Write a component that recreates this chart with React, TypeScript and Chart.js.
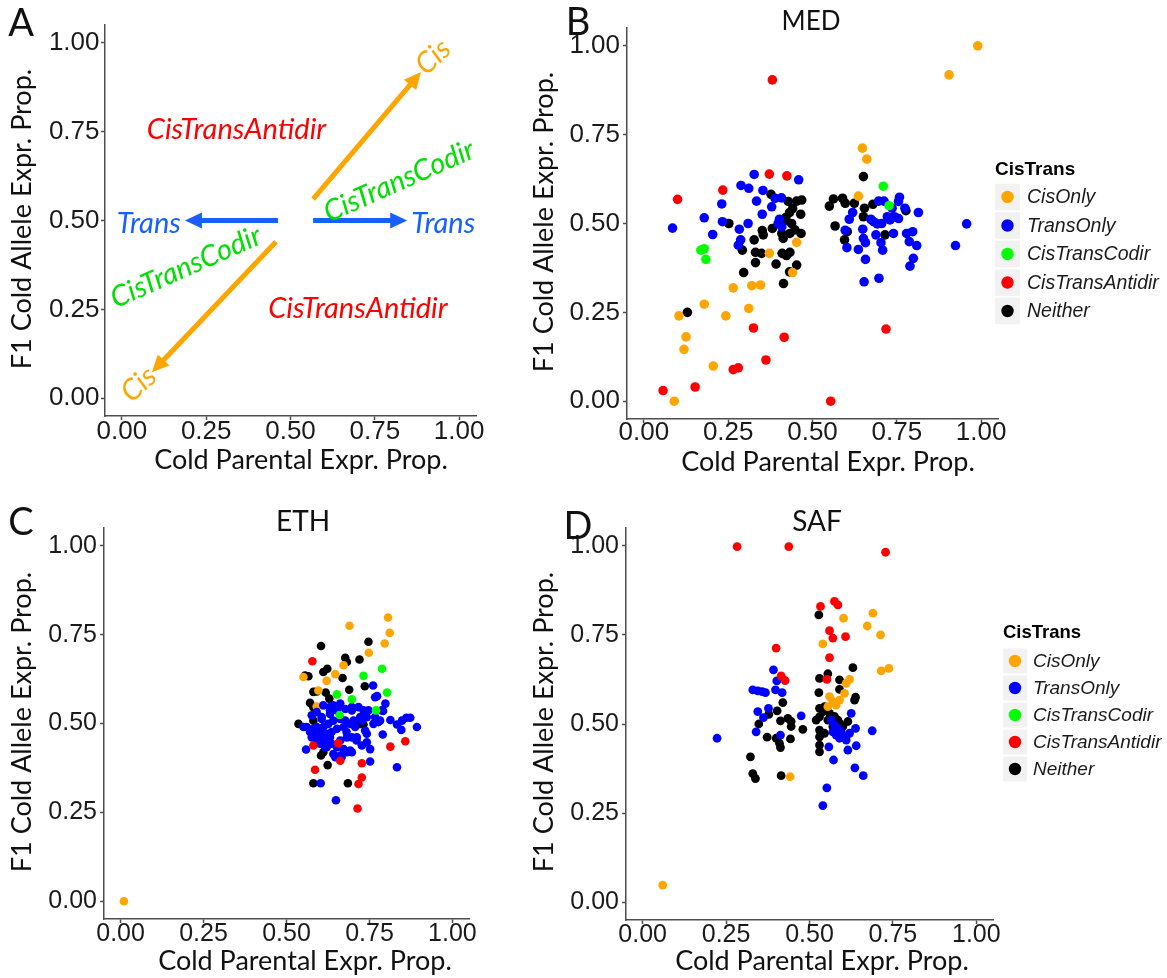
import React, { useEffect, useRef } from "react";
import { Chart, registerables } from "chart.js";

Chart.register(...registerables);

type Pt = [number, number];

// ---------- shared axis / category data ----------
const AXIS_TICKS = [0, 0.25, 0.5, 0.75, 1];
const AXIS_TICK_LABELS = ["0.00", "0.25", "0.50", "0.75", "1.00"];
const X_TITLE = "Cold Parental Expr. Prop.";
const Y_TITLE = "F1 Cold Allele Expr. Prop.";
const LEGEND_TITLE = "CisTrans";
const CATEGORIES = ["CisOnly", "TransOnly", "CisTransCodir", "CisTransAntidir", "Neither"];

// ---------- schematic (panel A) ----------
const SCHEMATIC_ARROW_FROM: Pt[] = [[0.567, 0.56], [0.457, 0.44], [0.463, 0.5], [0.567, 0.5]];
const SCHEMATIC_ARROW_TO: Pt[] = [[0.887, 0.918], [0.089, 0.073], [0.187, 0.5], [0.846, 0.5]];
const SCHEMATIC_ARROW_KIND = ["cis", "cis", "trans", "trans"];
const SCHEMATIC_LABELS = ["CisTransAntidir", "CisTransAntidir", "Trans", "Trans", "CisTransCodir", "CisTransCodir", "Cis", "Cis"];
const SCHEMATIC_LABEL_AT: Pt[] = [
  [0.34, 0.755], [0.7, 0.253], [0.08, 0.49], [0.953, 0.49],
  [0.822, 0.611], [0.19, 0.369], [0.923, 0.96], [0.05, 0.039],
];
const SCHEMATIC_LABEL_KIND = ["antidir", "antidir", "trans", "trans", "codir", "codir", "cis", "cis"];

// ---------- MED ----------
const MED_CIS_ONLY: Pt[] = [
  [0.99, 1.0], [0.905, 0.918], [0.648, 0.712], [0.661, 0.681], [0.636, 0.577], [0.372, 0.416],
  [0.453, 0.447], [0.441, 0.362], [0.265, 0.319], [0.32, 0.325], [0.346, 0.327], [0.179, 0.273],
  [0.104, 0.24], [0.243, 0.24], [0.311, 0.261], [0.125, 0.181], [0.119, 0.146], [0.206, 0.099], [0.09, 0.0],
];
const MED_TRANS_ONLY: Pt[] = [
  [0.085, 0.487], [0.179, 0.516], [0.204, 0.469], [0.231, 0.555], [0.233, 0.505], [0.288, 0.607],
  [0.311, 0.599], [0.327, 0.638], [0.353, 0.593], [0.334, 0.563], [0.351, 0.526], [0.379, 0.547],
  [0.389, 0.571], [0.408, 0.572], [0.459, 0.623], [0.283, 0.484], [0.309, 0.5], [0.287, 0.454],
  [0.28, 0.439], [0.402, 0.512], [0.398, 0.5], [0.409, 0.491],
  [0.619, 0.531], [0.609, 0.512], [0.597, 0.481], [0.602, 0.432], [0.636, 0.427], [0.649, 0.484],
  [0.651, 0.458], [0.657, 0.446], [0.657, 0.399], [0.653, 0.336], [0.697, 0.346], [0.673, 0.512],
  [0.681, 0.505], [0.692, 0.499], [0.705, 0.5], [0.688, 0.468], [0.703, 0.446], [0.708, 0.425],
  [0.712, 0.563], [0.696, 0.563], [0.736, 0.543], [0.722, 0.519], [0.73, 0.51], [0.743, 0.519],
  [0.755, 0.562], [0.758, 0.574], [0.755, 0.514], [0.74, 0.472], [0.774, 0.543], [0.779, 0.472],
  [0.797, 0.477], [0.787, 0.449], [0.809, 0.438], [0.799, 0.402], [0.789, 0.38], [0.814, 0.531],
  [0.957, 0.499], [0.924, 0.438],
];
const MED_CODIR: Pt[] = [[0.71, 0.605], [0.727, 0.55], [0.169, 0.425], [0.179, 0.429], [0.184, 0.399]];
const MED_ANTIDIR: Pt[] = [
  [0.381, 0.904], [0.1, 0.568], [0.234, 0.594], [0.372, 0.639], [0.424, 0.634], [0.325, 0.206],
  [0.416, 0.18], [0.28, 0.094], [0.265, 0.089], [0.362, 0.116], [0.152, 0.04], [0.057, 0.03],
  [0.554, 0.0], [0.718, 0.203],
];
const MED_NEITHER: Pt[] = [
  [0.129, 0.25], [0.252, 0.5], [0.292, 0.425], [0.296, 0.362], [0.327, 0.454], [0.331, 0.419],
  [0.331, 0.39], [0.349, 0.416], [0.354, 0.468], [0.351, 0.48], [0.377, 0.582], [0.381, 0.486],
  [0.392, 0.386], [0.414, 0.331], [0.41, 0.416], [0.423, 0.41], [0.433, 0.419], [0.432, 0.364],
  [0.409, 0.472], [0.413, 0.458], [0.433, 0.472], [0.438, 0.5], [0.421, 0.517], [0.432, 0.531],
  [0.441, 0.542], [0.453, 0.563], [0.468, 0.566], [0.465, 0.526], [0.448, 0.482], [0.466, 0.472],
  [0.453, 0.383], [0.428, 0.562], [0.413, 0.505],
  [0.55, 0.549], [0.562, 0.569], [0.567, 0.493], [0.589, 0.571], [0.597, 0.557], [0.624, 0.557],
  [0.603, 0.477], [0.595, 0.454], [0.651, 0.632], [0.654, 0.543], [0.651, 0.519], [0.679, 0.554],
  [0.715, 0.468], [0.777, 0.536],
];

// ---------- ETH ----------
const ETH_CIS_ONLY: Pt[] = [
  [0.806, 0.798], [0.811, 0.755], [0.796, 0.725], [0.69, 0.775], [0.748, 0.699], [0.672, 0.664],
  [0.647, 0.639], [0.621, 0.62], [0.551, 0.631], [0.596, 0.593], [0.591, 0.548], [0.01, 0.0],
];
const ETH_TRANS_ONLY: Pt[] = [
  [0.893, 0.49], [0.873, 0.516], [0.861, 0.516], [0.848, 0.508], [0.833, 0.497], [0.846, 0.482],
  [0.813, 0.51], [0.798, 0.556], [0.773, 0.577], [0.761, 0.607], [0.791, 0.535], [0.79, 0.469],
  [0.833, 0.377], [0.752, 0.393], [0.752, 0.428], [0.649, 0.284], [0.603, 0.332], [0.559, 0.427],
  [0.732, 0.537], [0.742, 0.518], [0.727, 0.508], [0.707, 0.49], [0.737, 0.48], [0.712, 0.461],
  [0.742, 0.447], [0.727, 0.438], [0.762, 0.499], [0.767, 0.518], [0.777, 0.504], [0.561, 0.49],
  [0.581, 0.485], [0.596, 0.48], [0.611, 0.49], [0.626, 0.499], [0.641, 0.508], [0.662, 0.513],
  [0.677, 0.508], [0.692, 0.499], [0.702, 0.508], [0.672, 0.49], [0.652, 0.485], [0.636, 0.476],
  [0.621, 0.471], [0.606, 0.461], [0.591, 0.461], [0.616, 0.447], [0.636, 0.443], [0.662, 0.452],
  [0.682, 0.461], [0.697, 0.461], [0.652, 0.433], [0.672, 0.428], [0.682, 0.419], [0.697, 0.419],
  [0.662, 0.41], [0.647, 0.405], [0.621, 0.433], [0.601, 0.443], [0.606, 0.518], [0.631, 0.527],
  [0.652, 0.537], [0.677, 0.541], [0.697, 0.537], [0.717, 0.546], [0.662, 0.556], [0.641, 0.551],
  [0.591, 0.532], [0.611, 0.551], [0.631, 0.546], [0.551, 0.49], [0.571, 0.476], [0.576, 0.461],
  [0.576, 0.523], [0.601, 0.476], [0.631, 0.461], [0.681, 0.476], [0.711, 0.452], [0.742, 0.471],
  [0.782, 0.508], [0.787, 0.537], [0.767, 0.574], [0.747, 0.537], [0.722, 0.518], [0.697, 0.546],
  [0.661, 0.551], [0.631, 0.537], [0.606, 0.513], [0.591, 0.49], [0.616, 0.433], [0.641, 0.414],
  [0.666, 0.405], [0.692, 0.424],
];
const ETH_CODIR: Pt[] = [
  [0.732, 0.634], [0.788, 0.654], [0.803, 0.587], [0.652, 0.582], [0.697, 0.568], [0.66, 0.524], [0.77, 0.537],
];
const ETH_ANTIDIR: Pt[] = [
  [0.578, 0.675], [0.858, 0.45], [0.813, 0.435], [0.727, 0.388], [0.727, 0.348], [0.717, 0.33],
  [0.714, 0.261], [0.586, 0.37], [0.662, 0.395], [0.656, 0.444], [0.581, 0.438],
];
const ETH_NEITHER: Pt[] = [
  [0.604, 0.718], [0.747, 0.73], [0.677, 0.685], [0.682, 0.673], [0.72, 0.68], [0.556, 0.635],
  [0.566, 0.633], [0.611, 0.645], [0.623, 0.654], [0.669, 0.628], [0.736, 0.605], [0.581, 0.589],
  [0.591, 0.59], [0.618, 0.587], [0.689, 0.595], [0.571, 0.558], [0.581, 0.546], [0.629, 0.57],
  [0.536, 0.499], [0.581, 0.508], [0.591, 0.473], [0.722, 0.499], [0.732, 0.497], [0.604, 0.41],
  [0.611, 0.419], [0.624, 0.383], [0.581, 0.332], [0.685, 0.332], [0.591, 0.445],
];

// ---------- SAF ----------
const SAF_CIS_ONLY: Pt[] = [
  [0.69, 0.811], [0.602, 0.797], [0.673, 0.775], [0.713, 0.75], [0.54, 0.725], [0.715, 0.649],
  [0.738, 0.656], [0.62, 0.625], [0.61, 0.614], [0.605, 0.586], [0.56, 0.577], [0.57, 0.563],
  [0.58, 0.553], [0.59, 0.567], [0.555, 0.549], [0.442, 0.352], [0.06, 0.048],
];
const SAF_TRANS_ONLY: Pt[] = [
  [0.223, 0.46], [0.392, 0.652], [0.402, 0.621], [0.33, 0.596], [0.345, 0.593], [0.358, 0.591],
  [0.368, 0.588], [0.398, 0.596], [0.418, 0.588], [0.345, 0.535], [0.362, 0.518], [0.377, 0.544],
  [0.34, 0.478], [0.413, 0.469], [0.475, 0.523], [0.552, 0.321], [0.54, 0.271], [0.572, 0.399],
  [0.636, 0.377], [0.661, 0.355], [0.688, 0.481], [0.64, 0.439], [0.615, 0.427], [0.638, 0.488],
  [0.625, 0.53], [0.558, 0.436], [0.565, 0.511], [0.575, 0.497], [0.585, 0.488], [0.595, 0.478],
  [0.57, 0.478], [0.605, 0.464], [0.59, 0.46], [0.58, 0.469], [0.61, 0.455], [0.62, 0.474],
];
const SAF_CODIR: Pt[] = [];
const SAF_ANTIDIR: Pt[] = [
  [0.283, 0.998], [0.438, 0.998], [0.728, 0.982], [0.533, 0.83], [0.575, 0.844], [0.585, 0.834],
  [0.56, 0.762], [0.57, 0.741], [0.608, 0.745], [0.56, 0.686], [0.4, 0.713], [0.415, 0.635],
  [0.427, 0.622], [0.552, 0.625],
];
const SAF_NEITHER: Pt[] = [
  [0.528, 0.806], [0.63, 0.658], [0.53, 0.628], [0.555, 0.641], [0.59, 0.624], [0.59, 0.597],
  [0.528, 0.588], [0.638, 0.575], [0.635, 0.567], [0.53, 0.544], [0.54, 0.535], [0.53, 0.52],
  [0.52, 0.511], [0.545, 0.549], [0.56, 0.53], [0.555, 0.511], [0.575, 0.521], [0.585, 0.511],
  [0.57, 0.493], [0.59, 0.502], [0.6, 0.493], [0.615, 0.507], [0.58, 0.483], [0.53, 0.483],
  [0.545, 0.474], [0.53, 0.464], [0.53, 0.441], [0.53, 0.422], [0.42, 0.56], [0.403, 0.537],
  [0.378, 0.527], [0.348, 0.5], [0.413, 0.509], [0.435, 0.516], [0.445, 0.507], [0.445, 0.493],
  [0.48, 0.485], [0.373, 0.463], [0.4, 0.46], [0.41, 0.446], [0.413, 0.434], [0.443, 0.458],
  [0.323, 0.408], [0.33, 0.361], [0.338, 0.347], [0.415, 0.355],
];

// ---------- styling ----------
const CATEGORY_COLORS = ["#FFA500", "#0000FF", "#00FF00", "#FF0000", "#000000"];
const DRAW_ORDER = [3, 2, 0, 1, 4]; // lower value is painted on top
const SCHEMATIC_COLORS: Record<string, string> = {
  cis: "#FFA500",
  trans: "#1560FF",
  codir: "#00E000",
  antidir: "#FF0000",
};
const SCHEMATIC_ROTATION: Record<string, number> = { cis: -43, trans: 0, codir: -24, antidir: 0 };
const HUMANIST = "Lato, 'Open Sans', 'DejaVu Sans', sans-serif";
const GROTESK = "'Liberation Sans', Arimo, Arial, Helvetica, sans-serif";
const AXIS_COLOR = "#4D4D4D";

interface TextItem {
  text: string;
  x: number;
  y: number;
  size: number;
  rot?: number;
}

interface LegendSpec {
  x: number;
  titleY: number;
  firstY: number;
  step: number;
  keyW: number;
  gap: number;
  titleSize: number;
  labelSize: number;
}

interface PanelSpec {
  left: number;
  top: number;
  width: number;
  height: number;
  area: { left: number; right: number; top: number; bottom: number };
  series: Pt[][] | null;
  radius: number;
  tickSize: number;
  xTickPad: number;
  yTickPad: number;
  texts: TextItem[];
  legend?: LegendSpec;
  schematic?: boolean;
}

function drawText(ctx: CanvasRenderingContext2D, t: TextItem, font: string, color: string) {
  ctx.save();
  ctx.translate(t.x, t.y);
  if (t.rot) ctx.rotate((t.rot * Math.PI) / 180);
  ctx.font = font;
  ctx.fillStyle = color;
  ctx.textAlign = "center";
  ctx.textBaseline = "middle";
  ctx.fillText(t.text, 0, 0);
  ctx.restore();
}

function drawSchematic(chart: Chart) {
  const ctx = chart.ctx;
  const xs = chart.scales.x;
  const ys = chart.scales.y;
  ctx.save();
  SCHEMATIC_ARROW_FROM.forEach((from, i) => {
    const to = SCHEMATIC_ARROW_TO[i];
    const color = SCHEMATIC_COLORS[SCHEMATIC_ARROW_KIND[i]];
    const x0 = xs.getPixelForValue(from[0]);
    const y0 = ys.getPixelForValue(from[1]);
    const x1 = xs.getPixelForValue(to[0]);
    const y1 = ys.getPixelForValue(to[1]);
    const len = Math.hypot(x1 - x0, y1 - y0);
    const ux = (x1 - x0) / len;
    const uy = (y1 - y0) / len;
    const head = 17;
    const half = 8;
    ctx.strokeStyle = color;
    ctx.fillStyle = color;
    ctx.lineWidth = 5;
    ctx.lineCap = "butt";
    ctx.beginPath();
    ctx.moveTo(x0, y0);
    ctx.lineTo(x1 - ux * (head - 2), y1 - uy * (head - 2));
    ctx.stroke();
    ctx.beginPath();
    ctx.moveTo(x1, y1);
    ctx.lineTo(x1 - ux * head - uy * half, y1 - uy * head + ux * half);
    ctx.lineTo(x1 - ux * head + uy * half, y1 - uy * head - ux * half);
    ctx.closePath();
    ctx.fill();
  });
  SCHEMATIC_LABELS.forEach((text, i) => {
    const kind = SCHEMATIC_LABEL_KIND[i];
    const at = SCHEMATIC_LABEL_AT[i];
    drawText(
      ctx,
      { text, x: xs.getPixelForValue(at[0]), y: ys.getPixelForValue(at[1]), size: 29, rot: SCHEMATIC_ROTATION[kind] },
      `italic 400 29px ${HUMANIST}`,
      SCHEMATIC_COLORS[kind]
    );
  });
  ctx.restore();
}

function drawLegend(ctx: CanvasRenderingContext2D, lg: LegendSpec) {
  ctx.save();
  ctx.textAlign = "left";
  ctx.textBaseline = "middle";
  ctx.fillStyle = "#000";
  ctx.font = `bold ${lg.titleSize}px ${GROTESK}`;
  ctx.fillText(LEGEND_TITLE, lg.x, lg.titleY);
  CATEGORIES.forEach((name, i) => {
    const cy = lg.firstY + i * lg.step;
    ctx.fillStyle = "#F2F2F2";
    ctx.fillRect(lg.x, cy - lg.step / 2 + 1, lg.keyW, lg.step - 2);
    ctx.fillStyle = CATEGORY_COLORS[i];
    ctx.beginPath();
    ctx.arc(lg.x + lg.keyW / 2, cy, 6.2, 0, Math.PI * 2);
    ctx.fill();
    ctx.fillStyle = "#1A1A1A";
    ctx.font = `italic ${lg.labelSize}px ${GROTESK}`;
    ctx.fillText(name, lg.x + lg.keyW + lg.gap, cy + 1);
  });
  ctx.restore();
}

function makeDecor(spec: PanelSpec) {
  return {
    id: "panelDecor",
    afterDraw(chart: Chart) {
      const ctx = chart.ctx;
      if (spec.schematic) drawSchematic(chart);
      spec.texts.forEach((t) => drawText(ctx, t, `400 ${t.size}px ${HUMANIST}`, "#111"));
      if (spec.legend) drawLegend(ctx, spec.legend);
    },
  };
}

function axisOptions(spec: PanelSpec, isX: boolean) {
  const a = spec.area;
  return {
    type: "linear" as const,
    position: isX ? ("bottom" as const) : ("left" as const),
    min: -0.05,
    max: 1.05,
    afterBuildTicks: (s: any) => {
      s.ticks = AXIS_TICKS.map((v) => ({ value: v }));
    },
    afterFit: (s: any) => {
      if (isX) s.height = spec.height - a.bottom;
      else s.width = a.left;
    },
    grid: {
      display: true,
      drawOnChartArea: false,
      drawTicks: true,
      tickLength: 4,
      tickWidth: 1.5,
      tickColor: AXIS_COLOR,
    },
    border: { display: true, color: AXIS_COLOR, width: 1.5 },
    ticks: {
      autoSkip: false,
      maxRotation: 0,
      minRotation: 0,
      color: "#1A1A1A",
      padding: isX ? spec.xTickPad : spec.yTickPad,
      font: { family: GROTESK, size: spec.tickSize, lineHeight: 1 },
      callback: (_v: any, i: number) => AXIS_TICK_LABELS[i],
    },
    title: { display: false },
  };
}

function buildConfig(spec: PanelSpec): any {
  const a = spec.area;
  const datasets = (spec.series || []).map((pts, i) => ({
    label: CATEGORIES[i],
    data: pts.map(([x, y]) => ({ x, y })),
    backgroundColor: CATEGORY_COLORS[i],
    borderWidth: 0,
    pointRadius: spec.radius,
    pointHoverRadius: spec.radius,
    order: DRAW_ORDER[i],
  }));
  return {
    type: "scatter",
    data: { datasets },
    options: {
      responsive: false,
      maintainAspectRatio: false,
      animation: false,
      events: [],
      layout: { padding: { left: 0, top: a.top, right: spec.width - a.right, bottom: 0 } },
      plugins: { legend: { display: false }, tooltip: { enabled: false }, title: { display: false } },
      scales: { x: axisOptions(spec, true), y: axisOptions(spec, false) },
    },
    plugins: [makeDecor(spec)],
  };
}

// ---------- panel layout ----------
const PANELS: PanelSpec[] = [
  {
    left: 0, top: 0, width: 520, height: 490,
    area: { left: 105, right: 476, top: 25, bottom: 416 },
    series: null, radius: 0, tickSize: 26, xTickPad: -1.5, yTickPad: 1.5,
    schematic: true,
    texts: [
      { text: "A", x: 21, y: 24, size: 38 },
      { text: Y_TITLE, x: 22, y: 219, size: 27, rot: -90 },
      { text: X_TITLE, x: 301, y: 460, size: 27 },
    ],
  },
  {
    left: 520, top: 0, width: 647, height: 490,
    area: { left: 107, right: 478, top: 28, bottom: 419 },
    series: [MED_CIS_ONLY, MED_TRANS_ONLY, MED_CODIR, MED_ANTIDIR, MED_NEITHER],
    radius: 4.8, tickSize: 26, xTickPad: -3, yTickPad: 3,
    texts: [
      { text: "B", x: 58, y: 23, size: 38 },
      { text: "MED", x: 291, y: 22, size: 26 },
      { text: Y_TITLE, x: 24, y: 222, size: 27, rot: -90 },
      { text: X_TITLE, x: 308, y: 462, size: 27 },
    ],
    legend: { x: 475, titleY: 170, firstY: 197, step: 28.5, keyW: 25, gap: 7, titleSize: 19, labelSize: 19.5 },
  },
  {
    left: 0, top: 490, width: 520, height: 488,
    area: { left: 104, right: 469, top: 38, bottom: 429 },
    series: [ETH_CIS_ONLY, ETH_TRANS_ONLY, ETH_CODIR, ETH_ANTIDIR, ETH_NEITHER],
    radius: 4.3, tickSize: 25, xTickPad: -1.5, yTickPad: 3,
    texts: [
      { text: "C", x: 21, y: 33, size: 38 },
      { text: "ETH", x: 303, y: 32, size: 28 },
      { text: Y_TITLE, x: 22, y: 232, size: 27, rot: -90 },
      { text: X_TITLE, x: 305, y: 471, size: 27 },
    ],
  },
  {
    left: 520, top: 490, width: 647, height: 488,
    area: { left: 106, right: 473, top: 38, bottom: 430 },
    series: [SAF_CIS_ONLY, SAF_TRANS_ONLY, SAF_CODIR, SAF_ANTIDIR, SAF_NEITHER],
    radius: 4.4, tickSize: 25, xTickPad: -1.5, yTickPad: 3,
    texts: [
      { text: "D", x: 58, y: 37, size: 38 },
      { text: "SAF", x: 297, y: 32, size: 28 },
      { text: Y_TITLE, x: 24, y: 232, size: 27, rot: -90 },
      { text: X_TITLE, x: 302, y: 471, size: 27 },
    ],
    legend: { x: 483, titleY: 143, firstY: 171, step: 27, keyW: 24, gap: 6, titleSize: 18.5, labelSize: 19 },
  },
];

function Panel({ spec }: { spec: PanelSpec }) {
  const ref = useRef<HTMLCanvasElement>(null);
  useEffect(() => {
    if (!ref.current) return;
    const chart = new Chart(ref.current, buildConfig(spec));
    return () => chart.destroy();
  }, [spec]);
  return (
    <canvas
      ref={ref}
      width={spec.width}
      height={spec.height}
      style={{ position: "absolute", left: spec.left, top: spec.top, width: spec.width, height: spec.height }}
    />
  );
}

export default function App() {
  return (
    <div style={{ position: "absolute", left: 0, top: 0, width: 1167, height: 978, background: "#fff", overflow: "hidden" }}>
      {PANELS.map((p, i) => (
        <Panel key={i} spec={p} />
      ))}
    </div>
  );
}
